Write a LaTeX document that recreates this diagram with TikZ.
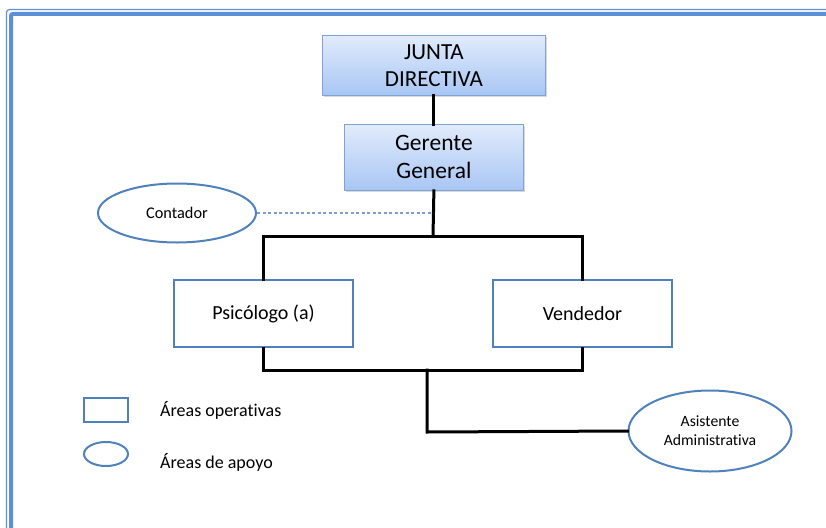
\documentclass[tikz,border=0pt]{standalone}
\usepackage{fontspec}
\setmainfont{Carlito}[Ligatures=NoCommon]
\usetikzlibrary{shapes.geometric,shadows}
\definecolor{frameblue}{HTML}{5B8FD6}
\definecolor{boxline}{HTML}{4F81BD}
\definecolor{topfill}{HTML}{E1EBFB}
\definecolor{botfill}{HTML}{A8C6F4}
\definecolor{topline}{HTML}{7FA3D6}
\definecolor{dashblue}{HTML}{7C9ED3}
\tikzset{
  headbox/.style={draw=topline, line width=0.8pt, top color=topfill, bottom color=botfill,
    anchor=north west, inner sep=0pt, align=center,
    drop shadow={shadow xshift=2pt, shadow yshift=-2pt, opacity=0.25, fill=black!60}},
  unitbox/.style={draw=boxline, line width=2pt, fill=white, anchor=north west,
    inner sep=0pt, align=center, font=\fontsize{20}{24}\selectfont},
  support/.style={ellipse, draw=boxline, line width=2pt, fill=white, inner sep=0pt,
    align=center},
  link/.style={line width=3pt, black, line cap=rect},
  legendtext/.style={anchor=west, inner sep=0pt, font=\fontsize{18}{22}\selectfont}
}
\begin{document}
\begin{tikzpicture}[x=1pt,y=-1pt]
\useasboundingbox (0,0) rectangle (826,527);
% page frame, running off the right and bottom edges
\begin{scope}
\clip (0,0) rectangle (826,527);
\draw[frameblue, line width=1.2pt, rounded corners=3pt] (6.5,9.5) rectangle (900,600);
\draw[frameblue, line width=4pt, rounded corners=2pt] (11,14) rectangle (900,600);
\end{scope}

% boxes
\node[headbox, minimum width=223pt, minimum height=60pt, font=\fontsize{23}{27}\selectfont]
  (junta) at (322,35) {JUNTA\\DIRECTIVA};
\node[headbox, minimum width=179pt, minimum height=66pt, font=\fontsize{23.5}{28}\selectfont]
  (gerente) at (344,124) {Gerente\\General};
\node[unitbox, minimum width=179pt, minimum height=67pt] (psico) at (173,279) {Psicólogo (a)};
\node[unitbox, minimum width=179pt, minimum height=67pt] (vend) at (492,279) {Vendedor};
\node[support, minimum width=158pt, minimum height=59pt, font=\fontsize{16.3}{19}\selectfont]
  (conta) at (177,213) {Contador};
\node[support, minimum width=163pt, minimum height=81pt, font=\fontsize{15.7}{19}\selectfont]
  (asist) at (710,431) {Asistente\\Administrativa};

% junction points
\coordinate (g1) at (433,236);
\coordinate (gc) at (433,213);
\coordinate (b1) at (427,370);
\coordinate (b2) at (427,432);

% connectors
\draw[link] (junta.south -| gerente.north) -- (gerente.north);
\draw[link] (gerente.south) -- (g1);
\draw[link] (psico.north) |- (g1) -| (vend.north);
\draw[link] (psico.south) |- (b1) -| (vend.south);
\draw[link] (b1) -- (b2) -- (asist.west);
\draw[dashblue, line width=1.3pt, dash pattern=on 3pt off 2.5pt] (conta.east) -- (gc);

% legend
\node[draw=boxline, line width=2pt, minimum width=44pt, minimum height=24pt, inner sep=0pt]
  (legrect) at (106,410) {};
\node[support, minimum width=44pt, minimum height=24pt] (legell) at (106,454) {};
\node[legendtext] (legop) at (160,410) {Áreas operativas};
\node[legendtext] (legap) at (160,462) {Áreas de apoyo};
\end{tikzpicture}
\end{document}
